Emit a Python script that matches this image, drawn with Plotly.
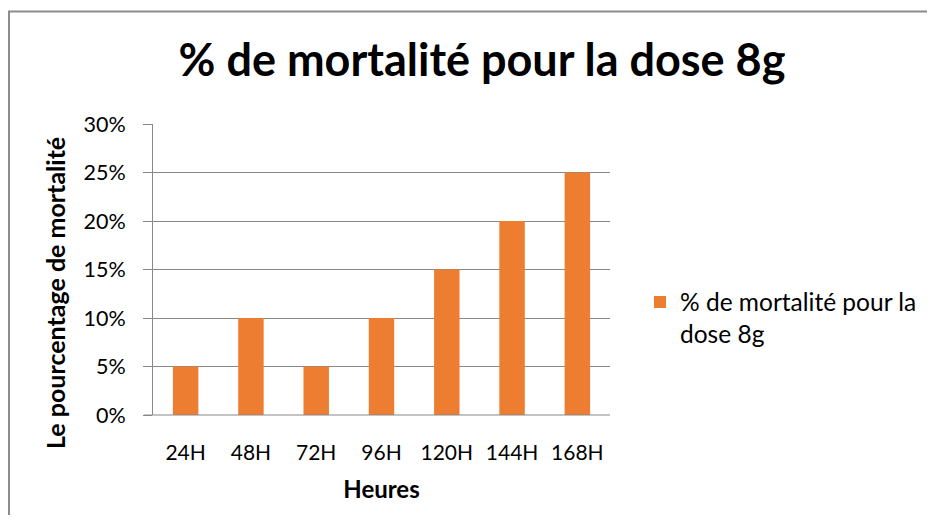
import plotly.graph_objects as go

categories = ["24H", "48H", "72H", "96H", "120H", "144H", "168H"]
values = [0.05, 0.10, 0.05, 0.10, 0.15, 0.20, 0.25]
series_name = "% de mortalité pour la<br>dose 8g"
y_ticks = [0, 0.05, 0.10, 0.15, 0.20, 0.25, 0.30]
title_text = "% de mortalité pour la dose 8g"
x_title = "Heures"
y_title = "Le pourcentage de mortalité"

FONT = "Lato"
OFF = 8  # page body margin
W, H = 935 - 2 * OFF, 531 - 2 * OFF - 8
# plot area in screen coords: x 153..610, y 124..415
PL, PR, PT, PB = 153 - OFF, 610 - OFF, 124 - OFF, 415 - OFF
L, R, T, B = PL, W - PR, PT, H - PB
pw, ph = PR - PL, PB - PT


def px_x(p):
    return (p - OFF - PL) / pw


def px_y(p):
    return (PB - (p - OFF)) / ph


fig = go.Figure()
fig.add_trace(go.Bar(
    x=categories, y=values, name=series_name,
    marker=dict(color="#ED7D31", line=dict(width=0)),
    width=0.39, showlegend=True,
))

fig.update_layout(
    width=W, height=H,
    margin=dict(l=L, r=R, t=T, b=B, autoexpand=False),
    paper_bgcolor="white", plot_bgcolor="white",
    font=dict(family=FONT, color="#000000", size=21),
    title=dict(text="<b>" + title_text + "</b>",
               x=(482 - OFF) / W, xanchor="center",
               y=1 - (60 - OFF) / H, yanchor="middle",
               font=dict(family=FONT, size=45, color="#000000")),
    showlegend=True,
    legend=dict(x=px_x(640), xanchor="left", y=px_y(318), yanchor="middle",
                font=dict(family=FONT, size=24.5, color="#000000"),
                valign="top",
                bgcolor="rgba(0,0,0,0)", itemwidth=30),
    xaxis=dict(showgrid=False, showline=False, ticks="",
               tickfont=dict(family=FONT, size=21),
               ticklabelstandoff=23,
               title=dict(text="<b>" + x_title + "</b>",
                          font=dict(family=FONT, size=24), standoff=18)),
    yaxis=dict(range=[0, 0.30], tickvals=y_ticks, tickformat=".0%",
               showgrid=True, gridcolor="#888888", gridwidth=1,
               showline=True, linecolor="#888888", linewidth=1,
               ticks="outside", ticklen=9, tickcolor="#888888",
               ticklabelstandoff=13, zeroline=False,
               tickfont=dict(family=FONT, size=21.5)),
    bargap=0.6,
    annotations=[dict(
        text="<b>" + y_title + "</b>", textangle=-90,
        xref="paper", yref="paper", x=px_x(55), y=px_y(293),
        xanchor="center", yanchor="middle", showarrow=False,
        font=dict(family=FONT, size=25, color="#000000"),
    )],
)

# bottom axis line spanning ticks
fig.add_shape(type="line", xref="paper", yref="paper",
              x0=px_x(144), x1=1, y0=0, y1=0,
              line=dict(color="#888888", width=1))
# outer chart border: only top and left edges are visible (single open path)
bx0, by_top = px_x(9), px_y(11.5)
bx1, by_bot = px_x(1000), px_y(700)
fig.add_shape(type="path", xref="paper", yref="paper",
              path=f"M {bx0} {by_bot} L {bx0} {by_top} L {bx1} {by_top}",
              line=dict(color="#8c8c8c", width=2), fillcolor="rgba(0,0,0,0)",
              layer="below")

fig.write_html("out.html")
